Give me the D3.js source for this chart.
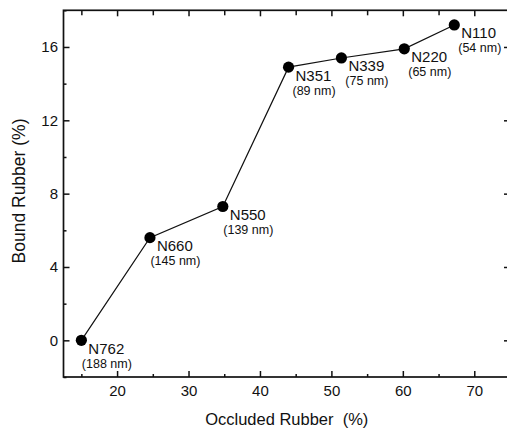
<!DOCTYPE html>
<html>
<head>
<meta charset="utf-8">
<script src="https://cdn.jsdelivr.net/npm/d3@7"></script>
<style>
  body { margin: 0; background: #fff; }
  svg { display: block; font-family: "Liberation Sans", Arial, sans-serif; }
  .axis text { font-size: 15px; fill: #111; }
  .axis line { stroke: #111; stroke-width: 1.5px; }
</style>
</head>
<body>
<div id="chart"></div>
<script>
const grades = ['N762', 'N660', 'N550', 'N351', 'N339', 'N220', 'N110'];
const particleSizes = ['(188 nm)', '(145 nm)', '(139 nm)', '(89 nm)', '(75 nm)', '(65 nm)', '(54 nm)'];
const occludedRubber = [15.0, 24.6, 34.8, 44.0, 51.4, 60.2, 67.2];
const boundRubber = [0.0, 5.6, 7.3, 14.9, 15.4, 15.9, 17.2];
const xTicks = [20, 30, 40, 50, 60, 70];
const xMinorTicks = [15, 25, 35, 45, 55, 65, 75];
const yTicks = [0, 4, 8, 12, 16];
const yMinorTicks = [-2, 2, 6, 10, 14, 18];

const width = 507, height = 429;
const plot = { left: 63.5, right: 510, top: 10.3, bottom: 377 };

const svg = d3.select('#chart').append('svg')
  .attr('width', width)
  .attr('height', height);

const x = d3.scaleLinear().domain([12.5, 75]).range([plot.left, plot.right]);
const y = d3.scaleLinear().domain([-2, 18]).range([plot.bottom, plot.top]);

function addAxis(axis, tx, ty) {
  const g = svg.append('g')
    .attr('class', 'axis')
    .attr('transform', 'translate(' + tx + ',' + ty + ')')
    .call(axis);
  g.select('.domain').remove();
  return g;
}

// major ticks (inward) with labels
addAxis(d3.axisBottom(x).tickValues(xTicks).tickSize(-6).tickPadding(8.5), 0, plot.bottom);
addAxis(d3.axisLeft(y).tickValues(yTicks).tickSize(-6).tickPadding(5.5), plot.left, 0);
// minor ticks
addAxis(d3.axisBottom(x).tickValues(xMinorTicks).tickSize(-3).tickFormat(''), 0, plot.bottom);
addAxis(d3.axisLeft(y).tickValues(yMinorTicks).tickSize(-3).tickFormat(''), plot.left, 0);
// top and right mirror ticks
addAxis(d3.axisTop(x).tickValues(xTicks).tickSize(-6).tickFormat(''), 0, plot.top);
addAxis(d3.axisTop(x).tickValues(xMinorTicks).tickSize(-5).tickFormat(''), 0, plot.top);
addAxis(d3.axisRight(y).tickValues(yTicks).tickSize(-6).tickFormat(''), plot.right, 0);
addAxis(d3.axisRight(y).tickValues(yMinorTicks).tickSize(-3).tickFormat(''), plot.right, 0);

// frame
svg.append('rect')
  .attr('x', plot.left)
  .attr('y', plot.top)
  .attr('width', plot.right - plot.left)
  .attr('height', plot.bottom - plot.top)
  .style('fill', 'none')
  .style('stroke', '#111')
  .style('stroke-width', '1.7px');

const points = occludedRubber.map((v, i) => ({ x: v, y: boundRubber[i], name: grades[i], size: particleSizes[i] }));

const line = d3.line()
  .x(d => x(d.x))
  .y(d => y(d.y));

svg.append('path')
  .datum(points)
  .attr('d', line)
  .style('fill', 'none')
  .style('stroke', '#111')
  .style('stroke-width', '1.2px');

svg.selectAll('.dot')
  .data(points)
  .enter().append('circle')
  .attr('class', 'dot')
  .attr('cx', d => x(d.x))
  .attr('cy', d => y(d.y))
  .attr('r', 5.6)
  .style('fill', '#000');

const labels = svg.selectAll('.point-label')
  .data(points)
  .enter().append('g')
  .attr('class', 'point-label')
  .attr('transform', d => 'translate(' + (x(d.x) + 7) + ',' + y(d.y) + ')');

labels.append('text')
  .attr('x', 0)
  .attr('y', 13.5)
  .style('font-size', '15px')
  .style('fill', '#111')
  .text(d => d.name);

labels.append('text')
  .attr('x', 18.5)
  .attr('y', 27.5)
  .attr('text-anchor', 'middle')
  .style('font-size', '12.5px')
  .style('fill', '#111')
  .text(d => d.size);

// axis titles
svg.append('text')
  .attr('x', (plot.left + plot.right) / 2)
  .attr('y', 425)
  .attr('text-anchor', 'middle')
  .style('font-size', '16.5px')
  .style('fill', '#111')
  .style('white-space', 'pre')
  .text('Occluded Rubber  (%)');

svg.append('text')
  .attr('transform', 'translate(25,' + 191 + ') rotate(-90)')
  .attr('text-anchor', 'middle')
  .style('font-size', '17.5px')
  .style('fill', '#111')
  .text('Bound Rubber (%)');
</script>
</body>
</html>
